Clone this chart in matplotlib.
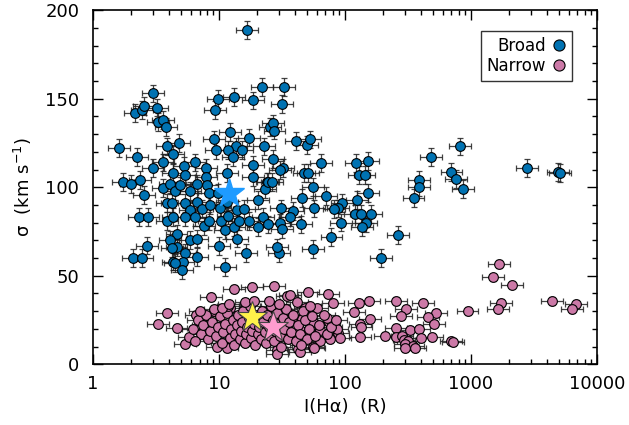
import numpy as np
import matplotlib.pyplot as plt
from matplotlib.lines import Line2D
from matplotlib.ticker import FixedLocator, FixedFormatter, LogLocator, MultipleLocator

# Broad component: H-alpha intensity (R) and velocity dispersion (km/s)
broad_I = [16.7, 2.15, 2.45, 2.54, 2.99, 3.22, 3.28, 3.59, 3.8, 9.8,
           9.3, 13.1, 18.6, 21.9, 12.2, 9.1, 17.3, 25.4, 32.7, 31.6,
           26.8, 27.5, 22.7, 4.8, 13.6, 3.86, 1.61, 2.23, 4.3, 2.99,
           3.59, 5.27, 6.45, 4.3, 5.4, 7.9, 7.9, 9.5, 11.8, 15.2,
           12.9, 11.6, 18.6, 18.6, 24.0, 1.73, 2.0, 2.36, 2.54, 3.59,
           4.08, 4.47, 4.9, 5.9, 6.7, 8.0, 8.3, 9.8, 3.86, 4.24,
           5.4, 6.7, 5.9, 7.3, 8.5, 10.2, 11.6, 13.9, 15.8, 20.4,
           23.2, 2.32, 2.73, 3.86, 4.3, 5.4, 6.45, 7.6, 8.3, 10.4,
           11.8, 11.1, 13.1, 14.4, 17.3, 22.3, 20.4, 4.6, 4.08, 5.9,
           6.7, 4.6, 4.24, 5.4, 2.68, 2.08, 2.45, 4.3, 5.17, 6.7,
           10.0, 13.9, 11.1, 4.5, 5.1, 16.4, 30.0, 40.8, 49.9, 52.5,
           26.8, 64.5, 122, 152, 818, 480, 2770, 4900, 5100, 700,
           760, 860, 385, 385, 350, 32.0, 30.4, 47.0, 50.7, 129,
           143, 24.5, 26.3, 55.5, 45.5, 70.7, 152, 124, 95, 88,
           82, 31.0, 38.6, 56.8, 36.6, 119, 134, 160, 93, 146,
           136, 24.5, 30.4, 31.5, 44.6, 78, 263, 29.0, 55.5, 193]
broad_sig = [189, 142, 143.5, 146, 153, 145, 137, 138, 134, 150,
             143.5, 151, 149, 156.5, 131, 127, 128, 134, 156.5, 147,
             136, 132, 123, 125, 123, 123, 122, 117, 118.6, 111,
             114, 112, 114, 108, 107, 111, 106, 121, 121, 121,
             117, 108, 112.4, 105.6, 103, 103, 102, 104, 95.5, 99.4,
             102, 98, 101, 98, 102, 101, 96.6, 96.6, 91, 91,
             91, 91.5, 87, 87.6, 90, 88, 91.5, 87, 87.6, 92.7,
             99, 83, 83, 81, 83, 83, 83, 78, 81, 81,
             84, 76, 77.4, 80.8, 80.8, 83, 77.4, 73.4, 70, 70,
             71, 66, 65.5, 63, 67, 60, 60, 58, 58, 60.5,
             66.7, 71, 55, 57, 53, 62.7, 62.7, 126, 124, 127,
             116, 113.6, 113.6, 114.7, 123, 117, 110.7, 108.5, 108, 108.5,
             104.5, 99, 104, 100, 93.8, 110.7, 109.6, 108, 108, 107,
             107, 103, 103, 100, 94, 95, 96.6, 92.7, 91, 88,
             87.6, 88, 86.4, 88, 83, 84.7, 84.7, 84.7, 80, 79.7,
             77.4, 79, 79.7, 76.5, 79, 71.8, 73, 66, 65, 60]

# Narrow component
narrow_I = [8.6, 13.1, 18.3, 27.3, 34.6, 3.86, 3.28, 4.6, 5.4, 5.77,
            9.6, 11.6, 29.0, 6.6, 9.1, 12.2, 25.4,
            1660, 1500, 2130, 50.7, 73.5, 36.6, 155, 129, 253, 415,
            1730, 4400, 6800, 6300, 1630, 940, 525, 305, 278, 118,
            455, 510, 158, 131, 135, 75, 80, 60, 48, 41.5,
            38.6, 45.5, 71.5, 55.5, 253, 330, 385, 207, 253, 283,
            295, 317, 400, 490, 695, 298, 345, 131, 88, 76,
            63, 55.5, 42.4, 35, 44, 52, 63, 86, 29, 44,
            57, 300, 360, 720,
            6.2, 6.8, 7.2, 7.5, 7.9, 8.2, 8.4, 8.8, 9.2, 9.5,
            9.8, 10.2, 6.5, 7.0,
            10.5, 10.8, 11.2, 11.5, 11.8, 12.2, 12.5, 12.8, 13.2, 13.5,
            13.8, 14.2, 14.6, 14.9, 10.6, 12.0,
            15.3, 15.6, 16.0, 16.4, 16.8, 17.2, 17.6, 18.0, 18.4, 18.8,
            19.3, 19.8, 20.3, 20.8, 21.4, 21.8, 16.2, 19.0,
            22.4, 23.0, 23.6, 24.2, 24.8, 25.4, 26.0, 26.6, 27.3, 28.0,
            28.8, 29.5, 30.3, 31.0, 32.0, 33.0, 34.0, 35.0, 25.0, 30.0,
            36.0, 37.5, 39.0, 40.5, 42.0, 44.0, 46.0, 48.0, 50.0, 52.0,
            55.0, 58.0, 45.0, 53.0,
            62, 68, 72, 78, 85, 92]
narrow_sig = [38, 42.4, 43.5, 44, 38.4, 28.8, 23, 20.3, 11.3, 15.3,
              9.6, 9, 7.9, 27.7, 30, 31.6, 30.5,
              56.5, 49, 45, 40.7, 39.5, 39, 36, 34.5, 35.6, 34.5,
              34.5, 35.6, 34, 31, 31, 30, 28.8, 31, 27, 29.4,
              26.5, 23, 25.4, 23, 21, 23.7, 34.5, 32, 32, 35,
              26.5, 25.4, 26, 23.7, 20.3, 19.2, 19.8, 15.8, 15.3, 15.8,
              13.8, 13, 14.7, 15.3, 13, 11.3, 10.2, 15.3, 17.5, 14.1,
              13, 9.6, 8.5, 19.2, 19.2, 18, 19.2, 19.8, 5.6, 6.8,
              9, 9, 9, 12.4,
              20, 25, 17, 22, 28, 14, 19, 24, 31, 16,
              21, 27, 13, 30,
              12, 18, 23, 29, 33, 15, 20, 25, 11, 17,
              22, 28, 14, 19, 32, 34,
              24, 30, 12, 17, 21, 26, 33, 15, 19, 23,
              11, 28, 17, 21, 14, 30, 35, 36,
              24, 18, 12, 28, 21, 16, 33, 25, 13, 19,
              29, 23, 16, 10, 26, 20, 31, 14, 36, 34,
              24, 18, 28, 13, 22, 17, 30, 25, 14, 20,
              27, 16, 11, 33,
              22, 28, 17, 21, 25, 15]

# Mean values shown as stars
star_broad = (12.0, 96.6)
star_narrow_a = (18.3, 26.5)
star_narrow_b = (26.8, 21.0)

broad_color = '#0072B2'
narrow_color = '#CC79A7'
xfac = 1.22  # multiplicative x uncertainty


def draw(ax, I, sig, color, yerr):
    I = np.asarray(I, dtype=float)
    sig = np.asarray(sig, dtype=float)
    xerr = [I - I / xfac, I * xfac - I]
    ax.errorbar(I, sig, xerr=xerr, yerr=yerr, fmt='none', ecolor='#222222',
                elinewidth=0.9, capsize=2.2, capthick=0.9, alpha=0.85, zorder=2)
    ax.plot(I, sig, 'o', ms=7, mfc=color, mec='black', mew=0.8, zorder=3)


fig = plt.figure(figsize=(6.29, 4.25), dpi=100)
ax = fig.add_axes([0.148, 0.143, 0.801, 0.833])

draw(ax, broad_I, broad_sig, broad_color, 5.0)
draw(ax, narrow_I, narrow_sig, narrow_color, 2.2)

ax.plot(*star_broad, marker='*', ms=22, mfc='#1E9BFF', mec='#1E9BFF', zorder=5)
ax.plot(*star_narrow_a, marker='*', ms=23, mfc='#FFF24A', mec='#444444', mew=0.8, zorder=5)
ax.plot(*star_narrow_b, marker='*', ms=23, mfc='#FF9CCF', mec='#444444', mew=0.8, zorder=6)

ax.set_xscale('log')
ax.set_xlim(1, 10000)
ax.set_ylim(0, 200)
ax.xaxis.set_major_locator(FixedLocator([1, 10, 100, 1000, 10000]))
ax.xaxis.set_major_formatter(FixedFormatter(['1', '10', '100', '1000', '10000']))
ax.xaxis.set_minor_locator(LogLocator(base=10, subs=np.arange(2, 10)))
ax.xaxis.set_minor_formatter(FixedFormatter([]))
ax.yaxis.set_major_locator(MultipleLocator(50))
ax.yaxis.set_minor_locator(MultipleLocator(10))

ax.tick_params(which='both', direction='in', top=True, right=True, width=1.0,
               labelsize=13, colors='black')
ax.tick_params(which='major', length=7)
ax.tick_params(which='minor', length=3.5)
ax.tick_params(axis='x', which='major', pad=8)
ax.tick_params(axis='y', which='major', pad=10)
for s in ax.spines.values():
    s.set_linewidth(1.2)

ax.set_xlabel('I(H\u03b1)  (R)', fontsize=13, labelpad=3)
ax.set_ylabel('\u03c3  (km s$^{-1}$)', fontsize=13, labelpad=8)

handles = [Line2D([], [], ls='none', marker='o', ms=8, mfc=broad_color, mec='black', mew=0.8),
           Line2D([], [], ls='none', marker='o', ms=8, mfc=narrow_color, mec='black', mew=0.8)]
leg = ax.legend(handles, ['Broad', 'Narrow'], loc='upper right', markerfirst=False,
                fontsize=12, frameon=True, fancybox=False, edgecolor='black',
                handlelength=0.8, handletextpad=0.4, borderpad=0.35, labelspacing=0.15,
                bbox_to_anchor=(0.967, 0.965))
leg.get_frame().set_linewidth(1.0)
for t in leg.get_texts():
    t.set_ha('right')

fig.savefig('out.png', dpi=100)
